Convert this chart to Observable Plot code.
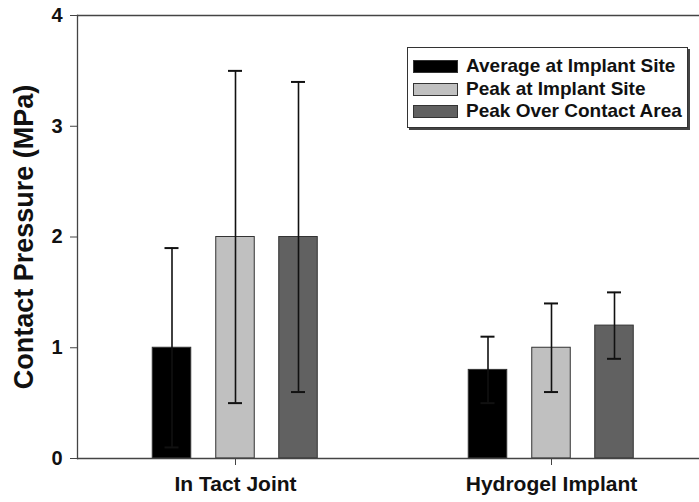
<!DOCTYPE html>
<html>
<head>
<meta charset="utf-8">
<script src="https://cdn.jsdelivr.net/npm/d3@7"></script>
<script src="https://cdn.jsdelivr.net/npm/@observablehq/plot@0.6"></script>
<style>
  html, body { margin: 0; padding: 0; background: #fff; overflow: hidden; }
  #wrap { position: relative; width: 699px; height: 502px; font-family: "Liberation Sans", Arial, sans-serif; }
  #legend { position: absolute; left: 407px; top: 47px; width: 279px; height: 79px; border: 1px solid #333;
            box-shadow: 2px 2px 0 #444; background: #fff; }
  .row { position: absolute; left: 5px; height: 20px; display: flex; align-items: center; }
  .sw { width: 43px; height: 11px; border: 1px solid #333; margin-right: 8px; }
  .lab { font-weight: bold; font-size: 19px; color: #111; white-space: nowrap; }
</style>
</head>
<body>
<div id="wrap"><div id="chart"></div><div id="legend"></div></div>
<script>
const groups = ["In Tact Joint", "Hydrogel Implant"];
const seriesNames = ["Average at Implant Site", "Peak at Implant Site", "Peak Over Contact Area"];
const seriesColors = ["#000000", "#c0c0c0", "#616161"];
const avgValues = [1.0, 0.8];
const avgErrors = [0.9, 0.3];
const peakValues = [2.0, 1.0];
const peakErrors = [1.5, 0.4];
const areaValues = [2.0, 1.2];
const areaErrors = [1.4, 0.3];
const yTicks = [0, 1, 2, 3, 4];

const seriesVals = [avgValues, peakValues, areaValues];
const seriesErrs = [avgErrors, peakErrors, areaErrors];
const offsets = [-63.5, 0, 63];

const tables = seriesNames.map((s, i) => groups.map((g, j) => ({
  group: g, series: s, value: seriesVals[i][j],
  lo: seriesVals[i][j] - seriesErrs[i][j], hi: seriesVals[i][j] + seriesErrs[i][j]
})));

const marks = [];
tables.forEach((t, i) => {
  marks.push(Plot.barY(t, {x: "group", y: "value", fill: seriesColors[i], stroke: "#333", strokeWidth: 1,
    dx: offsets[i], insetLeft: 138.75, insetRight: 138.75}));
});
tables.forEach((t, i) => {
  marks.push(Plot.ruleX(t, {x: "group", y1: "lo", y2: "hi", stroke: "#111", strokeWidth: 1.6, dx: offsets[i]}));
  marks.push(Plot.tickY(t, {x: "group", y: "hi", stroke: "#111", strokeWidth: 2, dx: offsets[i], insetLeft: 151, insetRight: 151}));
  marks.push(Plot.tickY(t, {x: "group", y: "lo", stroke: "#111", strokeWidth: 2, dx: offsets[i], insetLeft: 151, insetRight: 151}));
});

const plot = Plot.plot({
  width: 699,
  height: 502,
  marginLeft: 77,
  marginRight: 0,
  marginTop: 15,
  marginBottom: 44,
  style: {fontFamily: "'Liberation Sans', Arial, sans-serif", background: "#fff", overflow: "visible"},
  x: {type: "band", domain: groups, range: [77, 709], padding: 0},
  y: {domain: [0, 4]},
  marks: [
    ...marks,
    Plot.ruleY([0, 4], {stroke: "#444", strokeWidth: 1.3}),
    Plot.frame({anchor: "left", stroke: "#444", strokeWidth: 1.3}),
    Plot.axisY({ticks: yTicks, tickFormat: d => d, tickSize: 7, tickPadding: 8, fontSize: 20, fontWeight: "bold", label: null, stroke: "#444", fill: "#111"}),
    Plot.axisX({tickSize: 7, tickPadding: 11, fontSize: 21, fontWeight: "bold", label: null, stroke: "#444", fill: "#111"}),
    Plot.text(["Contact Pressure (MPa)"], {frameAnchor: "left", textAnchor: "middle", rotate: -90, dx: -53, fontSize: 27, fontWeight: "bold", fill: "#111"})
  ]
});
document.getElementById("chart").appendChild(plot);

const legend = document.getElementById("legend");
const rowTops = [8, 31, 53];
seriesNames.forEach((s, i) => {
  const row = document.createElement("div");
  row.className = "row";
  row.style.top = rowTops[i] + "px";
  const sw = document.createElement("div");
  sw.className = "sw";
  sw.style.background = seriesColors[i];
  const lab = document.createElement("span");
  lab.className = "lab";
  lab.textContent = s;
  row.appendChild(sw); row.appendChild(lab);
  legend.appendChild(row);
});
</script>
</body>
</html>
